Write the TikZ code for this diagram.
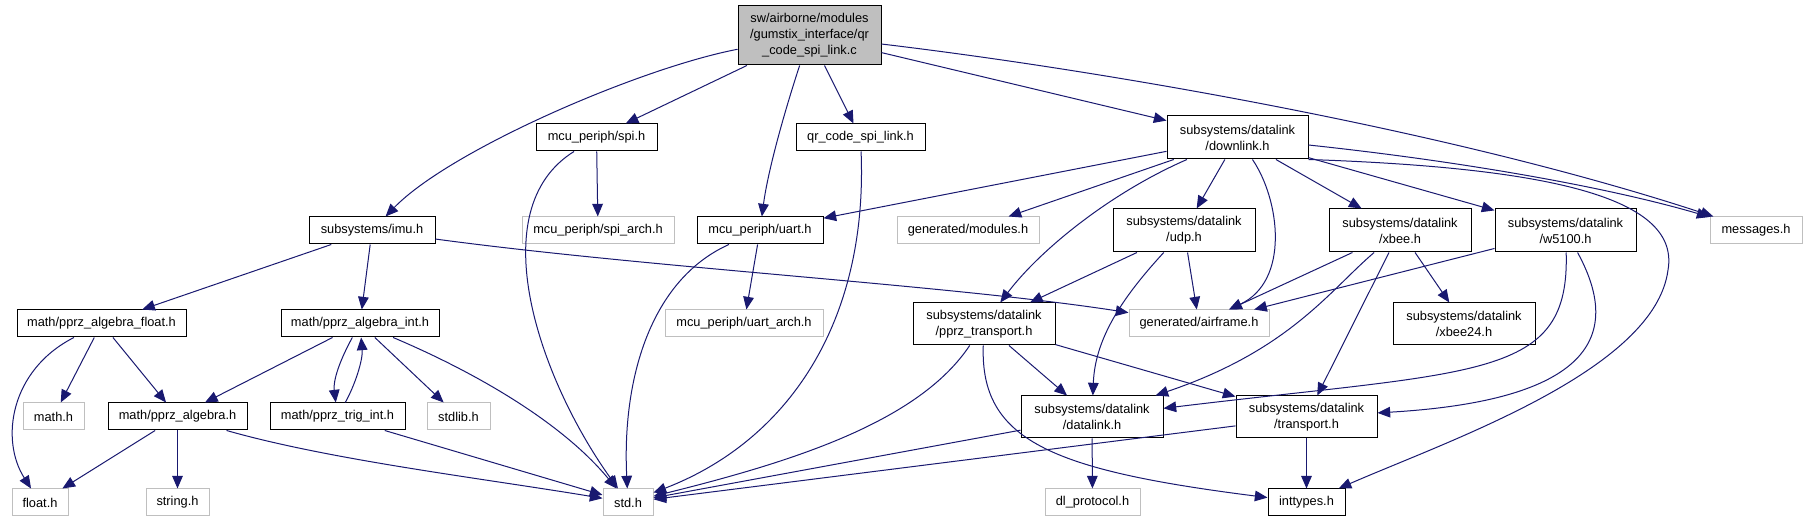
\documentclass[tikz,border=0pt]{standalone}
\usepackage{fontspec}
\setmainfont{Liberation Sans}
\usetikzlibrary{arrows.meta}
\definecolor{edgec}{HTML}{191970}
\definecolor{grayb}{HTML}{BFBFBF}
\tikzset{
  nd/.style={draw=black, fill=white, line width=0.75pt, inner sep=0pt, align=center,
    font=\fontsize{9.6pt}{12pt}\selectfont},
  ndg/.style={nd, draw=grayb},
  ndm/.style={nd, fill=grayb},
  edge/.style={draw=edgec, line width=0.75pt, -{Triangle[length=9.5pt,width=8pt]}},
}
\newcommand\bx[7][nd]{\node[#1, minimum width={(#5-#3)*0.75pt}, minimum height={(#6-#4)*0.75pt}] (#2) at ({(#3+#5)/2},{(#4+#6)/2}) {#7};}
\begin{document}
\begin{tikzpicture}[x=0.75pt,y=-0.75pt]
\fill[white] (0,0) rectangle (1807,523);
\useasboundingbox (0,0) rectangle (1807,523);
% nodes
\bx[ndm]{main}{738}{6}{881}{65}{sw/airborne/modules\\/gumstix\_interface/qr\\\_code\_spi\_link.c}
\bx{spi}{536}{124}{657}{151}{mcu\_periph/spi.h}
\bx{qr}{796}{124}{925}{151}{qr\_code\_spi\_link.h}
\bx{downlink}{1167}{116}{1308}{159}{subsystems/datalink\\/downlink.h}
\bx{imu}{309}{217}{435}{244}{subsystems/imu.h}
\bx[ndg]{spiarch}{522}{217}{674}{244}{mcu\_periph/spi\_arch.h}
\bx{uart}{697}{217}{823}{244}{mcu\_periph/uart.h}
\bx[ndg]{modules}{897}{217}{1039}{244}{generated/modules.h}
\bx{udp}{1113}{209}{1255}{252}{subsystems/datalink\\/udp.h}
\bx{xbee}{1329}{209}{1471}{252}{subsystems/datalink\\/xbee.h}
\bx{w5100}{1495}{209}{1636}{252}{subsystems/datalink\\/w5100.h}
\bx[ndg]{messages}{1710}{217}{1802}{244}{messages.h}
\bx{pfloat}{17}{310}{186}{337}{math/pprz\_algebra\_float.h}
\bx{pint}{281}{310}{439}{337}{math/pprz\_algebra\_int.h}
\bx[ndg]{uartarch}{665}{310}{823}{337}{mcu\_periph/uart\_arch.h}
\bx[ndg]{airframe}{1129}{310}{1269}{337}{generated/airframe.h}
\bx{ptrans}{913}{303}{1055}{345}{subsystems/datalink\\/pprz\_transport.h}
\bx{xbee24}{1393}{303}{1535}{345}{subsystems/datalink\\/xbee24.h}
\bx[ndg]{mathh}{23}{403}{84}{430}{math.h}
\bx{palg}{108}{403}{247}{430}{math/pprz\_algebra.h}
\bx{trig}{270}{403}{405}{430}{math/pprz\_trig\_int.h}
\bx[ndg]{stdlib}{427}{403}{490}{430}{stdlib.h}
\bx{datalink}{1021}{396}{1163}{438}{subsystems/datalink\\/datalink.h}
\bx{transport}{1236}{396}{1377}{438}{subsystems/datalink\\/transport.h}
\bx[ndg]{floath}{12}{489}{68}{516}{float.h}
\bx[ndg]{stringh}{146}{489}{209}{516}{string.h}
\bx[ndg]{stdh}{603}{489}{653}{516}{std.h}
\bx[ndg]{dlproto}{1045}{489}{1140}{516}{dl\_protocol.h}
\bx{inttypes}{1268}{489}{1345}{516}{inttypes.h}
% edges
\draw[edge] (main) .. controls (640,68) and (450,150) .. (imu);
\draw[edge] (main) -- (spi);
\draw[edge] (main) .. controls (785,110) and (768,170) .. (uart);
\draw[edge] (main) -- (qr);
\draw[edge] (main) -- (downlink);
\draw[edge] (main) .. controls (1100,70) and (1450,130) .. (messages);
\draw[edge] (spi) .. controls (480,210) and (540,380) .. (stdh);
\draw[edge] (spi) -- (spiarch);
\draw[edge] (qr) .. controls (868,320) and (790,440) .. (stdh);
\draw[edge] (imu) -- (pfloat);
\draw[edge] (imu) -- (pint);
\draw[edge] (imu) .. controls (650,268) and (950,285) .. (airframe);
\draw[edge] (uart) .. controls (650,280) and (622,380) .. (stdh);
\draw[edge] (uart) -- (uartarch);
\draw[edge] (downlink) -- (uart);
\draw[edge] (downlink) -- (modules);
\draw[edge] (downlink) .. controls (1110,193) and (1040,250) .. (ptrans);
\draw[edge] (downlink) -- (udp);
\draw[edge] (downlink) .. controls (1280,200) and (1290,281) .. (airframe);
\draw[edge] (downlink) -- (xbee);
\draw[edge] (downlink) -- (w5100);
\draw[edge] (downlink) .. controls (1450,160) and (1600,185) .. (messages);
\draw[edge] (downlink.south east) .. controls (1560,168) and (1680,200) .. (1668,270)
   .. controls (1655,370) and (1450,440) .. (inttypes);
\draw[edge] (udp) -- (ptrans);
\draw[edge] (udp) .. controls (1120,300) and (1095,340) .. (datalink);
\draw[edge] (udp) -- (airframe);
\draw[edge] (xbee) -- (airframe);
\draw[edge] (xbee) .. controls (1330,290) and (1290,350) .. (datalink);
\draw[edge] (xbee) -- (transport);
\draw[edge] (xbee) -- (xbee24);
\draw[edge] (w5100) -- (airframe);
\draw[edge] (w5100) .. controls (1570,380) and (1480,370) .. (datalink);
\draw[edge] (w5100) .. controls (1620,330) and (1600,400) .. (transport);
\draw[edge] (pfloat) .. controls (10,370) and (0,440) .. (floath);
\draw[edge] (pfloat) -- (mathh);
\draw[edge] (pfloat) -- (palg);
\draw[edge] (pint) -- (palg);
\draw[edge] (pint) .. controls (340,360) and (333,380) .. (trig);
\draw[edge] (trig) .. controls (355,385) and (363,360) .. (pint);
\draw[edge] (pint) -- (stdlib);
\draw[edge] (pint) .. controls (470,370) and (560,420) .. (stdh);
\draw[edge] (trig) -- (stdh);
\draw[edge] (palg) -- (floath);
\draw[edge] (palg) -- (stringh);
\draw[edge] (palg) .. controls (330,460) and (480,478) .. (stdh);
\draw[edge] (ptrans) .. controls (920,420) and (800,460) .. (stdh);
\draw[edge] (ptrans) .. controls (980,440) and (1050,470) .. (inttypes);
\draw[edge] (ptrans) -- (datalink);
\draw[edge] (ptrans) -- (transport);
\draw[edge] (datalink) -- (stdh);
\draw[edge] (datalink) -- (dlproto);
\draw[edge] (transport) -- (stdh);
\draw[edge] (transport) -- (inttypes);
\end{tikzpicture}
\end{document}
